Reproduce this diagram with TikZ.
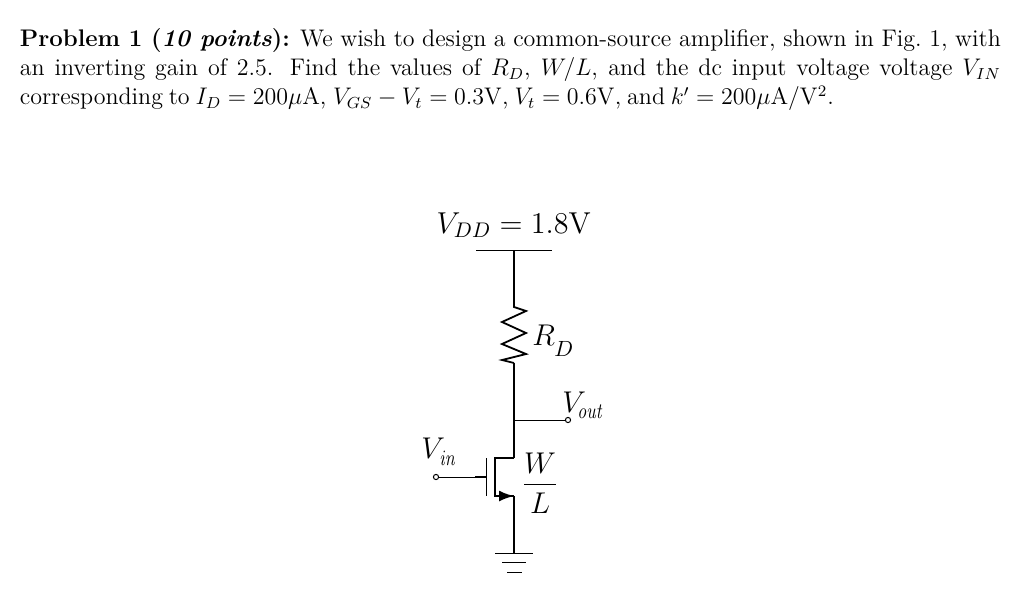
\RequirePackage{fix-cm}
\documentclass[tikz,border=0pt]{standalone}
\usetikzlibrary{arrows.meta}
\tikzset{
  wire/.style={line width=0.9pt,black},
  thinwire/.style={line width=0.5pt,black},
  fet/.style={line width=1.1pt,black},
  term/.style={circle,draw=black,line width=0.5pt,fill=white,inner sep=0pt,minimum size=2.6pt},
  lab/.style={inner sep=0pt,font=\fontsize{15}{18}\selectfont},
  para/.style={inner sep=0pt,text width=490.5pt,align=justify,font=\fontsize{12}{14.5}\selectfont,anchor=north west}
}
\begin{document}
\begin{tikzpicture}[x=0.5pt,y=-0.5pt]
\useasboundingbox (0,0) rectangle (1024,591);
\node[para] (text) at (19.5,28.5) {\textbf{Problem 1 (\textit{10 points}):} We wish to design a common-source amplifier, shown in Fig.~1, with an inverting gain of 2.5. Find the values of $R_D$, $W/L$, and the dc input voltage voltage $V_{IN}$ {\spaceskip=2.9pt corresponding to $I_D=200\mu\mathrm{A}$,\hspace{0.5pt} $V_{GS}-V_t=0.3\mathrm{V}$, $V_t=0.6\mathrm{V}$, and $k'=200\mu\mathrm{A}/\mathrm{V}^2$.}};
% supply
\node[lab,anchor=base,font=\fontsize{15.1}{18}\selectfont] (vdd) at (514,233) {$V_{DD}=1.8\mathrm{V}$};
\coordinate (vl) at (476,250); \coordinate (vr) at (552,250); \coordinate (vm) at (514,250);
\draw[thinwire] (vl) -- (vr);
% resistor
\coordinate (rt) at (514,307); \coordinate (rb) at (514,363);
\draw[wire,line join=miter] (vm) -- (rt) -- (526,311) -- (502,322) -- (526,333) -- (502,344) -- (526,354) -- (502,360) -- (rb);
\node[lab,anchor=base west] (rd) at (532,345) {$R$};
\node[lab,anchor=base west] (rdsub) at (554,356) {\fontsize{11}{14}\selectfont$D$};
% output
\coordinate (j) at (514,420);
\node[term] (out) at (568,420) {};
\draw[wire] (rb) -- (j);
\draw[thinwire] (j) -- (out);
\node[lab,anchor=base west] (vo) at (562,412) {$V$};
\node[lab,anchor=base west] (vos) at (577,418) {\fontsize{11}{13}\selectfont\scalebox{0.8}[1]{$\mathit{out}$}};
% MOSFET
\coordinate (d) at (514,458); \coordinate (di) at (495,458);
\coordinate (s) at (514,496); \coordinate (si) at (495,496);
\coordinate (gt) at (486,458); \coordinate (gb) at (486,496); \coordinate (gm) at (486,477);
\coordinate (gk) at (475,477);
\draw[wire] (j) -- (d);
\draw[fet,line join=miter] (d) -- (di) -- (si) -- (s);
\draw[-{Latex[length=7.5pt,width=5.5pt]},line width=1pt] (si) -- (s);
\draw[thinwire] (gt) -- (gb);
\node[term] (in) at (436,477) {};
\draw[thinwire] (in) -- (gm);
\draw[line width=0.9pt] (gk) -- (gm);
\node[lab,anchor=base west] (vi) at (421,458) {$V$};
\node[lab,anchor=base west] (vis) at (439,465) {\fontsize{11}{13}\selectfont\scalebox{0.8}[1]{$\mathit{in}$}};
% W/L
\node[lab,anchor=base] (w) at (540,473) {$W$};
\coordinate (bl) at (524,484); \coordinate (br) at (556,484);
\draw[thinwire] (bl) -- (br);
\node[lab,anchor=base] (l) at (540,513) {$L$};
% ground
\coordinate (g0) at (514,553);
\coordinate (g1l) at (495,553); \coordinate (g1r) at (533,553);
\coordinate (g2l) at (502,562); \coordinate (g2r) at (526,562);
\coordinate (g3l) at (507,572); \coordinate (g3r) at (522,572);
\draw[wire] (s) -- (g0);
\draw[thinwire] (g1l) -- (g1r);
\draw[thinwire] (g2l) -- (g2r);
\draw[thinwire] (g3l) -- (g3r);
\end{tikzpicture}
\end{document}
